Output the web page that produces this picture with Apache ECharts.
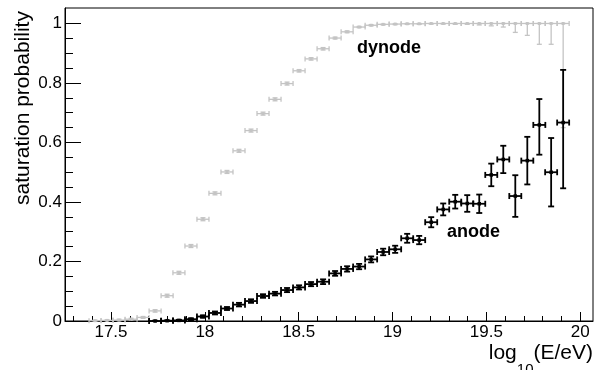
<!DOCTYPE html>
<html>
<head>
<meta charset="utf-8">
<script src="https://cdn.jsdelivr.net/npm/echarts@6/dist/echarts.min.js"></script>
<style>
  html, body { margin: 0; padding: 0; background: #fff; }
  #chart { width: 602px; height: 370px; }
</style>
</head>
<body>
<div id="chart"></div>
<script>
// Saturation probability vs. log10 energy, binned, with asymmetric error bars.

// Bin centres (log10(E/eV)) and values for the dynode channel
const dynodeX = [17.415, 17.479, 17.543, 17.607, 17.671, 17.735, 17.799, 17.862, 17.926, 17.990,
                 18.054, 18.118, 18.182, 18.246, 18.310, 18.374, 18.438, 18.502, 18.566, 18.630,
                 18.694, 18.758, 18.822, 18.886, 18.950, 19.014, 19.078, 19.142, 19.206, 19.270,
                 19.334, 19.398, 19.462, 19.526, 19.590, 19.654, 19.718, 19.782, 19.845, 19.909];
const dynodeY = [0.001, 0.002, 0.003, 0.006, 0.012, 0.034, 0.085, 0.162, 0.252, 0.342,
                 0.429, 0.501, 0.572, 0.640, 0.697, 0.745, 0.798, 0.841, 0.881, 0.915,
                 0.951, 0.972, 0.988, 0.994, 0.997, 0.998, 0.999, 0.999, 1.000, 1.000,
                 1.000, 1.000, 1.000, 1.000, 1.000, 1.000, 1.000, 1.000, 1.000, 1.000];
const dynodeErrLow = [0.001, 0.001, 0.002, 0.002, 0.003, 0.004, 0.005, 0.005, 0.005, 0.005,
                      0.005, 0.005, 0.005, 0.005, 0.005, 0.005, 0.005, 0.004, 0.004, 0.004,
                      0.003, 0.003, 0.002, 0.002, 0.002, 0.002, 0.002, 0.002, 0.002, 0.002,
                      0.003, 0.003, 0.005, 0.008, 0.012, 0.030, 0.040, 0.070, 0.070, 0.350];
const dynodeErrHigh = [0.002, 0.002, 0.003, 0.003, 0.003, 0.004, 0.005, 0.005, 0.005, 0.005,
                       0.005, 0.005, 0.005, 0.005, 0.005, 0.005, 0.005, 0.004, 0.004, 0.004,
                       0.003, 0.003, 0.002, 0.002, 0.001, 0.001, 0.001, 0.001, 0.000, 0.000,
                       0.000, 0.000, 0.000, 0.000, 0.000, 0.000, 0.000, 0.000, 0.000, 0.000];

// Bin centres and values for the anode channel
const anodeX = [17.735, 17.799, 17.862, 17.926, 17.990, 18.054, 18.118, 18.182, 18.246, 18.310,
                18.374, 18.438, 18.502, 18.566, 18.630, 18.694, 18.758, 18.822, 18.886, 18.950,
                19.014, 19.078, 19.142, 19.206, 19.270, 19.334, 19.398, 19.462, 19.526, 19.590,
                19.654, 19.718, 19.782, 19.845, 19.909];
const anodeY = [0.000, 0.001, 0.002, 0.006, 0.015, 0.027, 0.042, 0.055, 0.067, 0.084,
                0.092, 0.104, 0.113, 0.124, 0.132, 0.160, 0.175, 0.183, 0.207, 0.232,
                0.241, 0.278, 0.272, 0.332, 0.375, 0.401, 0.395, 0.394, 0.491, 0.543,
                0.420, 0.539, 0.659, 0.500, 0.667];
const anodeErrLow = [0.000, 0.001, 0.002, 0.003, 0.004, 0.005, 0.005, 0.006, 0.006, 0.006,
                     0.006, 0.007, 0.007, 0.007, 0.008, 0.008, 0.009, 0.009, 0.010, 0.011,
                     0.012, 0.015, 0.014, 0.017, 0.020, 0.023, 0.028, 0.031, 0.038, 0.046,
                     0.070, 0.080, 0.100, 0.115, 0.221];
const anodeErrHigh = [0.001, 0.001, 0.002, 0.003, 0.004, 0.005, 0.005, 0.006, 0.006, 0.006,
                      0.006, 0.007, 0.007, 0.007, 0.008, 0.008, 0.009, 0.009, 0.010, 0.011,
                      0.012, 0.015, 0.014, 0.017, 0.020, 0.023, 0.028, 0.031, 0.038, 0.046,
                      0.070, 0.080, 0.087, 0.115, 0.177];

// Half of the bin width in log10(E/eV)
const BIN_HALF = 0.032;

// Axis ticks
const xMajorTicks = [17.5, 18, 18.5, 19, 19.5, 20];
const xMinorTicks = [17.3, 17.4, 17.6, 17.7, 17.8, 17.9, 18.1, 18.2, 18.3, 18.4, 18.6, 18.7,
                     18.8, 18.9, 19.1, 19.2, 19.3, 19.4, 19.6, 19.7, 19.8, 19.9];
const yMajorTicks = [0, 0.2, 0.4, 0.6, 0.8, 1];
const yMinorTicks = [0.05, 0.1, 0.15, 0.25, 0.3, 0.35, 0.45, 0.5, 0.55, 0.65, 0.7, 0.75,
                     0.85, 0.9, 0.95];

const FONT = '"Liberation Sans", Arial, Helvetica, sans-serif';

function rows(xs, ys, lo, hi) {
  return xs.map((x, i) => [x, ys[i], lo[i], hi[i]]);
}

// Draws a ROOT-style point: horizontal bin bar, vertical error bar, end caps, square marker
function errorBarRenderer(st) {
  return function (params, api) {
    const x = api.value(0), y = api.value(1), lo = api.value(2), hi = api.value(3);
    const c = api.coord([x, y]);
    const xl = api.coord([x - BIN_HALF, y])[0];
    const xr = api.coord([x + BIN_HALF, y])[0];
    const yt = api.coord([x, y + hi])[1];
    const yb = api.coord([x, y - lo])[1];
    const ls = { stroke: st.color, lineWidth: st.width };
    const seg = (x1, y1, x2, y2) => ({ type: 'line', shape: { x1, y1, x2, y2 }, style: ls });
    const k = st.cap, m = st.marker;
    return {
      type: 'group',
      children: [
        seg(xl, c[1], xr, c[1]),
        seg(xl, c[1] - k, xl, c[1] + k),
        seg(xr, c[1] - k, xr, c[1] + k),
        seg(c[0], yt, c[0], yb),
        seg(c[0] - k, yt, c[0] + k, yt),
        seg(c[0] - k, yb, c[0] + k, yb),
        { type: 'rect', shape: { x: c[0] - m / 2, y: c[1] - m / 2, width: m, height: m },
          style: { fill: st.color } }
      ]
    };
  };
}

const chart = echarts.init(document.getElementById('chart'), null, { renderer: 'canvas' });

const tickLine = { show: true, lineStyle: { color: '#000', width: 1 } };

chart.setOption({
  animation: false,
  backgroundColor: '#fff',
  grid: {
    left: 65, right: 9, top: 8, bottom: 49,
    show: true, borderColor: '#000', borderWidth: 1, backgroundColor: 'transparent',
    outerBoundsMode: 'none'
  },
  xAxis: [
    {
      type: 'value', min: 17.255, max: 20.068, position: 'bottom',
      axisLine: { show: true, lineStyle: { color: '#000', width: 1 } },
      axisTick: { show: true, inside: true, length: 9, customValues: xMajorTicks,
                  lineStyle: { color: '#000', width: 1 } },
      axisLabel: { customValues: xMajorTicks, color: '#000', fontSize: 17,
                   fontFamily: FONT, margin: 3, formatter: v => String(v) },
      splitLine: { show: false }
    },
    {
      type: 'value', min: 17.255, max: 20.068, position: 'bottom',
      axisLine: { show: false },
      axisTick: { show: true, inside: true, length: 5, customValues: xMinorTicks,
                  lineStyle: { color: '#000', width: 1 } },
      axisLabel: { show: false },
      splitLine: { show: false }
    }
  ],
  yAxis: [
    {
      type: 'value', min: 0, max: 1.052, position: 'left',
      axisLine: { show: true, lineStyle: { color: '#000', width: 1 } },
      axisTick: { show: true, inside: true, length: 16, customValues: yMajorTicks,
                  lineStyle: { color: '#000', width: 1 } },
      axisLabel: { customValues: yMajorTicks, color: '#000', fontSize: 17,
                   fontFamily: FONT, margin: 3, formatter: v => String(v) },
      splitLine: { show: false }
    },
    {
      type: 'value', min: 0, max: 1.052, position: 'left',
      axisLine: { show: false },
      axisTick: { show: true, inside: true, length: 8, customValues: yMinorTicks,
                  lineStyle: { color: '#000', width: 1 } },
      axisLabel: { show: false },
      splitLine: { show: false }
    }
  ],
  series: [
    {
      name: 'dynode', type: 'custom', xAxisIndex: 0, yAxisIndex: 0,
      data: rows(dynodeX, dynodeY, dynodeErrLow, dynodeErrHigh),
      encode: { x: 0, y: 1 },
      renderItem: errorBarRenderer({ color: '#c4c4c4', width: 1.3, cap: 2.5, marker: 3 })
    },
    {
      name: 'anode', type: 'custom', xAxisIndex: 0, yAxisIndex: 0,
      data: rows(anodeX, anodeY, anodeErrLow, anodeErrHigh),
      encode: { x: 0, y: 1 },
      renderItem: errorBarRenderer({ color: '#000', width: 1.8, cap: 3, marker: 3.5 })
    }
  ]
});

// Text: axis titles and channel labels
const measureCtx = document.createElement('canvas').getContext('2d');
function textWidth(str, font) { measureCtx.font = font; return measureCtx.measureText(str).width; }

const titleSize = 21, subSize = 15;
const wParen = textWidth('(E/eV)', titleSize + 'px ' + FONT);
const wSub = textWidth('10', subSize + 'px ' + FONT);
const titleRight = 593;

chart.setOption({
  graphic: [
    { type: 'text', x: 23, y: 108, rotation: Math.PI / 2,
      style: { text: 'saturation probability', fill: '#000', font: titleSize + 'px ' + FONT,
               align: 'center', verticalAlign: 'middle' } },
    { type: 'text', x: titleRight, y: 353,
      style: { text: '(E/eV)', fill: '#000', font: titleSize + 'px ' + FONT,
               align: 'right', verticalAlign: 'middle' } },
    { type: 'text', x: titleRight - wParen, y: 370,
      style: { text: '10', fill: '#000', font: subSize + 'px ' + FONT,
               align: 'right', verticalAlign: 'middle' } },
    { type: 'text', x: titleRight - wParen - wSub, y: 353,
      style: { text: 'log', fill: '#000', font: titleSize + 'px ' + FONT,
               align: 'right', verticalAlign: 'middle' } },
    { type: 'text', x: 357, y: 47.8,
      style: { text: 'dynode', fill: '#000', font: 'bold 18px ' + FONT,
               align: 'left', verticalAlign: 'middle' } },
    { type: 'text', x: 447, y: 231.8,
      style: { text: 'anode', fill: '#000', font: 'bold 18px ' + FONT,
               align: 'left', verticalAlign: 'middle' } }
  ]
});
</script>
</body>
</html>
